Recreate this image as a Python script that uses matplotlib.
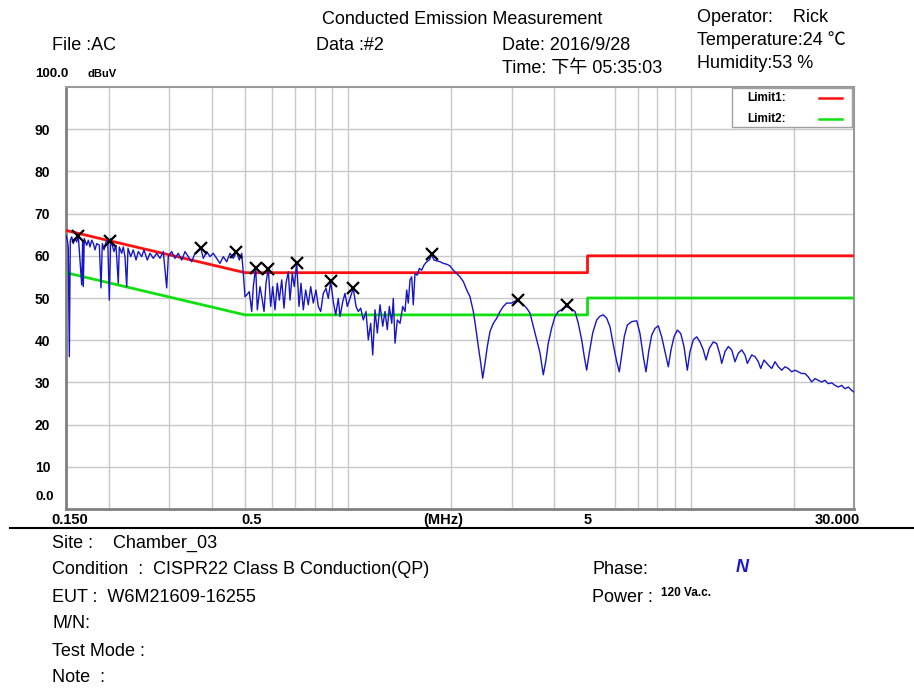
#! python3
# Conducted emission scan, CISPR22 class B limits

import matplotlib
matplotlib.use('Agg')
import matplotlib.pyplot as plt

W, H = 914, 689

# scan trace (MHz, dBuV)
freq_mhz = [
    0.1500, 0.1513, 0.1523, 0.1534, 0.1544, 0.1559, 0.1575, 0.1594, 0.1612, 0.1629,
    0.1648, 0.1667, 0.1678, 0.1685, 0.1696, 0.1724, 0.1743, 0.1763, 0.1783, 0.1803,
    0.1823, 0.1844, 0.1877, 0.1898, 0.1915, 0.1937, 0.1963, 0.1986, 0.2007, 0.2026,
    0.2048, 0.2071, 0.2099, 0.2132, 0.2146, 0.2181, 0.2205, 0.2230, 0.2256, 0.2276,
    0.2317, 0.2358, 0.2402, 0.2439, 0.2495, 0.2534, 0.2591, 0.2639, 0.2698, 0.2760,
    0.2822, 0.2885, 0.2952, 0.2984, 0.3053, 0.3122, 0.3191, 0.3265, 0.3339, 0.3413,
    0.3492, 0.3571, 0.3651, 0.3710, 0.3776, 0.3863, 0.3950, 0.4038, 0.4131, 0.4224,
    0.4319, 0.4419, 0.4518, 0.4619, 0.4726, 0.4809, 0.4888, 0.4941, 0.4998, 0.5055,
    0.5144, 0.5228, 0.5285, 0.5370, 0.5429, 0.5529, 0.5615, 0.5680, 0.5756, 0.5845,
    0.5940, 0.6022, 0.6115, 0.6210, 0.6295, 0.6397, 0.6497, 0.6584, 0.6687, 0.6764,
    0.6869, 0.6962, 0.7075, 0.7187, 0.7283, 0.7397, 0.7516, 0.7649, 0.7773, 0.7911,
    0.8055, 0.8181, 0.8314, 0.8461, 0.8616, 0.8750, 0.8892, 0.9050, 0.9197, 0.9359,
    0.9467, 0.9640, 0.9790, 0.9942, 1.0125, 1.0351, 1.0542, 1.0706, 1.0880, 1.1072,
    1.1276, 1.1451, 1.1637, 1.1796, 1.1980, 1.2166, 1.2390, 1.2617, 1.2813, 1.3012,
    1.3190, 1.3405, 1.3548, 1.3704, 1.3918, 1.4173, 1.4433, 1.4658, 1.4825, 1.4983,
    1.5156, 1.5328, 1.5495, 1.5674, 1.5918, 1.6133, 1.6395, 1.6654, 1.6956, 1.7256,
    1.7537, 1.7813, 1.8137, 1.8546, 1.8961, 1.9402, 1.9836, 2.0282, 2.0750, 2.1215,
    2.1693, 2.2193, 2.2689, 2.3201, 2.3627, 2.3994, 2.4384, 2.4713, 2.5098, 2.5488,
    2.5958, 2.6538, 2.7150, 2.7762, 2.8383, 2.9037, 3.0030, 3.1052, 3.2115, 3.3213,
    3.3965, 3.4722, 3.5522, 3.6324, 3.7136, 3.7818, 3.8406, 3.9291, 4.0179, 4.1076,
    4.2024, 4.3172, 4.4442, 4.5963, 4.6991, 4.8074, 4.8923, 4.9719, 5.0600, 5.1771,
    5.3174, 5.4375, 5.5602, 5.6885, 5.8157, 5.9469, 6.0840, 6.1914, 6.2921, 6.4034,
    6.5345, 6.7298, 6.9599, 7.1154, 7.2761, 7.4097, 7.5438, 7.6983, 7.8704, 8.0480,
    8.2337, 8.4177, 8.6078, 8.7660, 8.9435, 9.1455, 9.3560, 9.5652, 9.7812, 9.9588,
    10.184, 10.418, 10.651, 10.892, 11.092, 11.340, 11.649, 11.918, 12.187, 12.325,
    12.603, 12.885, 13.182, 13.480, 13.781, 14.099, 14.417, 14.642, 15.083, 15.420,
    15.765, 16.022, 16.383, 16.862, 17.254, 17.640, 18.034, 18.454, 18.867, 19.289,
    19.734, 20.178, 20.630, 21.105, 21.582, 22.065, 22.563, 23.072, 23.588, 24.132,
    24.677, 25.241, 25.821, 26.405, 26.996, 27.618, 28.242, 28.874, 29.540, 30.000,
]
level_dbuv = [
    64.8, 63.7, 62.1, 36.1, 63.7, 64.5, 62.9, 64.1, 63.3, 64.8,
    59.0, 53.1, 63.7, 52.7, 64.1, 62.5, 63.7, 62.1, 63.7, 62.9,
    61.4, 62.9, 62.5, 52.4, 62.9, 61.4, 63.3, 63.7, 49.5, 64.1,
    62.5, 61.0, 62.5, 53.5, 62.1, 60.6, 62.1, 59.8, 52.7, 61.8,
    59.8, 61.4, 59.0, 61.0, 59.8, 61.4, 59.0, 60.6, 59.4, 60.6,
    59.4, 61.0, 52.4, 59.8, 61.0, 59.4, 60.6, 59.0, 61.0, 59.8,
    58.6, 60.6, 61.4, 61.9, 59.4, 61.0, 59.8, 60.6, 59.4, 58.2,
    59.8, 58.6, 60.6, 59.4, 61.0, 59.0, 60.6, 55.9, 50.3, 50.7,
    51.5, 46.8, 52.7, 57.4, 47.2, 52.7, 49.5, 46.8, 53.5, 57.0,
    48.0, 52.7, 47.2, 53.5, 49.5, 54.3, 47.6, 53.5, 56.2, 49.5,
    55.8, 52.7, 58.3, 48.0, 53.5, 47.2, 51.9, 48.4, 52.7, 48.8,
    51.9, 48.0, 46.8, 51.1, 52.3, 49.9, 53.9, 49.1, 46.0, 49.9,
    45.6, 49.1, 51.1, 48.0, 49.9, 52.3, 48.0, 46.8, 47.6, 44.8,
    46.8, 40.1, 44.0, 36.5, 47.2, 41.7, 48.4, 43.3, 46.8, 42.5,
    48.0, 44.0, 49.9, 39.3, 44.8, 44.0, 48.0, 46.8, 51.9, 48.8,
    54.3, 55.0, 48.4, 55.8, 55.4, 57.0, 56.6, 57.8, 58.6, 59.0,
    60.2, 59.0, 58.8, 58.6, 58.2, 58.0, 57.6, 56.6, 55.8, 55.0,
    53.9, 51.9, 50.3, 46.8, 42.5, 38.5, 34.6, 31.0, 34.6, 38.5,
    42.1, 44.0, 45.2, 46.8, 48.0, 48.8, 48.8, 49.5, 48.8, 47.6,
    46.4, 43.3, 40.1, 37.0, 31.8, 35.3, 39.3, 42.9, 45.6, 46.8,
    47.2, 48.0, 47.6, 46.8, 44.0, 40.1, 36.1, 32.9, 37.0, 41.7,
    44.8, 45.7, 46.0, 45.2, 43.2, 38.9, 34.9, 32.5, 36.5, 40.9,
    43.6, 44.4, 44.6, 41.6, 36.1, 32.5, 37.3, 41.2, 42.8, 43.4,
    40.8, 37.3, 33.7, 37.7, 40.8, 42.4, 41.6, 38.5, 32.9, 37.3,
    40.1, 40.8, 39.6, 37.7, 35.3, 38.1, 39.6, 39.2, 36.5, 34.5,
    37.3, 38.5, 37.7, 34.9, 36.9, 37.7, 36.5, 34.5, 36.5, 36.1,
    34.9, 33.3, 35.3, 34.1, 33.3, 34.9, 33.7, 32.9, 33.7, 33.3,
    32.5, 32.9, 32.5, 32.1, 32.1, 31.3, 30.1, 30.9, 30.5, 30.1,
    30.5, 29.7, 29.9, 29.3, 28.9, 29.3, 28.5, 28.9, 28.1, 27.7,
]

# marked peaks
peak_freq = [0.163, 0.2016, 0.371, 0.4715, 0.537, 0.584, 0.7076, 0.891, 1.035, 1.753, 3.126, 4.346]
peak_level = [64.8, 63.6, 61.9, 61.0, 57.2, 56.9, 58.3, 54.0, 52.4, 60.5, 49.5, 48.3]

# CISPR22 class B limits
limit_freq = [0.15, 0.5, 5, 5, 30]
limit1_qp = [66, 56, 56, 60, 60]
limit2_av = [56, 46, 46, 50, 50]

# label spots along the frequency axis (labels sit a bit off the grid)
x_label_pos = [0.154, 0.524, 1.89, 5.0, 26.9]
x_ticklabels = ['0.150', '0.5', '(MHz)', '5', '30.000']
x_grid = [0.2, 0.3, 0.4, 0.5, 0.6, 0.7, 0.8, 0.9, 1, 2, 3, 4, 5, 6, 7, 8, 9, 10, 20]
y_ticks = [10, 20, 30, 40, 50, 60, 70, 80, 90]

head_font = ['Liberation Sans', 'Noto Sans CJK SC', 'DejaVu Sans']
narrow_font = ['Liberation Sans Narrow', 'Liberation Sans', 'DejaVu Sans']

fig = plt.figure(figsize=(W / 100, H / 100), dpi=100)
ax = fig.add_axes([66 / W, 1 - 509 / H, (854 - 66) / W, (509 - 87) / H])

ax.plot(limit_freq, limit1_qp, color='#ff1010', lw=2, zorder=3)
ax.plot(limit_freq, limit2_av, color='#10e010', lw=2, zorder=3)
ax.plot(freq_mhz, level_dbuv, color='#1616c4', lw=1, zorder=4)
ax.plot(peak_freq, peak_level, 'x', color='black', ms=8, mew=1.6, zorder=5)

ax.set_xscale('log')
ax.set_xlim(0.15, 30)
ax.set_ylim(0, 100)
ax.set_xticks(x_label_pos)
ax.set_xticklabels(x_ticklabels, fontsize=10.5, fontweight='bold', family=narrow_font)
ax.set_xticks(x_grid, minor=True)
ax.xaxis.set_minor_formatter(plt.NullFormatter())
ax.set_yticks(y_ticks)
ax.set_yticklabels([str(v) for v in y_ticks], fontsize=10, fontweight='bold', family=narrow_font)
for lab in ax.get_yticklabels():
    lab.set_ha('left')
ax.tick_params(axis='both', which='both', length=0)
ax.tick_params(axis='x', pad=3)
ax.tick_params(axis='y', pad=22.5)
ax.xaxis.grid(True, which='minor', color='#c8c8c8', lw=1)
ax.xaxis.grid(False, which='major')
ax.yaxis.grid(True, which='major', color='#c8c8c8', lw=1)
ax.set_axisbelow(True)
for side in ['left', 'bottom']:
    ax.spines[side].set_color('#808080')
    ax.spines[side].set_linewidth(2)
for side in ['top', 'right']:
    ax.spines[side].set_color('#9a9a9a')
    ax.spines[side].set_linewidth(1.5)

# legend box
ax.add_patch(plt.Rectangle((0.845, 0.905), 0.153, 0.093, transform=ax.transAxes,
                           facecolor='white', edgecolor='#a0a0a0', lw=1, zorder=6))
ax.text(0.865, 0.975, 'Limit1:', transform=ax.transAxes, fontsize=8.5, fontweight='bold',
        family=narrow_font, va='center', zorder=7)
ax.text(0.865, 0.925, 'Limit2:', transform=ax.transAxes, fontsize=8.5, fontweight='bold',
        family=narrow_font, va='center', zorder=7)
ax.plot([0.955, 0.985], [0.975, 0.975], transform=ax.transAxes, color='#ff1010', lw=1.8, zorder=7)
ax.plot([0.955, 0.985], [0.925, 0.925], transform=ax.transAxes, color='#10e010', lw=1.8, zorder=7)


def put(x, y, s, **kw):
    kw.setdefault('family', head_font)
    kw.setdefault('fontsize', 13)
    fig.text(x / W, 1 - y / H, s, va='center', **kw)


put(35, 74, '100.0', fontsize=9.5, fontweight='bold', family=narrow_font)
put(88, 74, 'dBuV', fontsize=8, fontweight='bold', family=narrow_font)
put(35, 497, '0.0', fontsize=9.5, fontweight='bold', family=narrow_font)

put(322, 20, 'Conducted Emission Measurement')
put(52, 46, 'File :AC')
put(316, 46, 'Data :#2')
put(502, 46, 'Date: 2016/9/28')
put(502, 69, 'Time: 下午 05:35:03')
put(697, 17, 'Operator:    Rick')
put(697, 40, 'Temperature:24 ℃')
put(697, 63, 'Humidity:53 %')

fig.add_artist(plt.Line2D([10 / W, 1], [1 - 528 / H, 1 - 528 / H], color='black', lw=1.5))

put(52, 543, 'Site :    Chamber_03')
put(52, 570, 'Condition  :  CISPR22 Class B Conduction(QP)')
put(52, 597, 'EUT :  W6M21609-16255')
put(52, 624, 'M/N:')
put(52, 651, 'Test Mode :')
put(52, 678, 'Note  :')
put(592, 570, 'Phase:')
put(736, 567, 'N', color='#1a1acc', fontweight='bold', style='italic')
put(592, 597, 'Power :')
put(661, 593, '120 Va.c.', fontsize=8.5, fontweight='bold', family=narrow_font)

fig.savefig('out.png', dpi=100)
